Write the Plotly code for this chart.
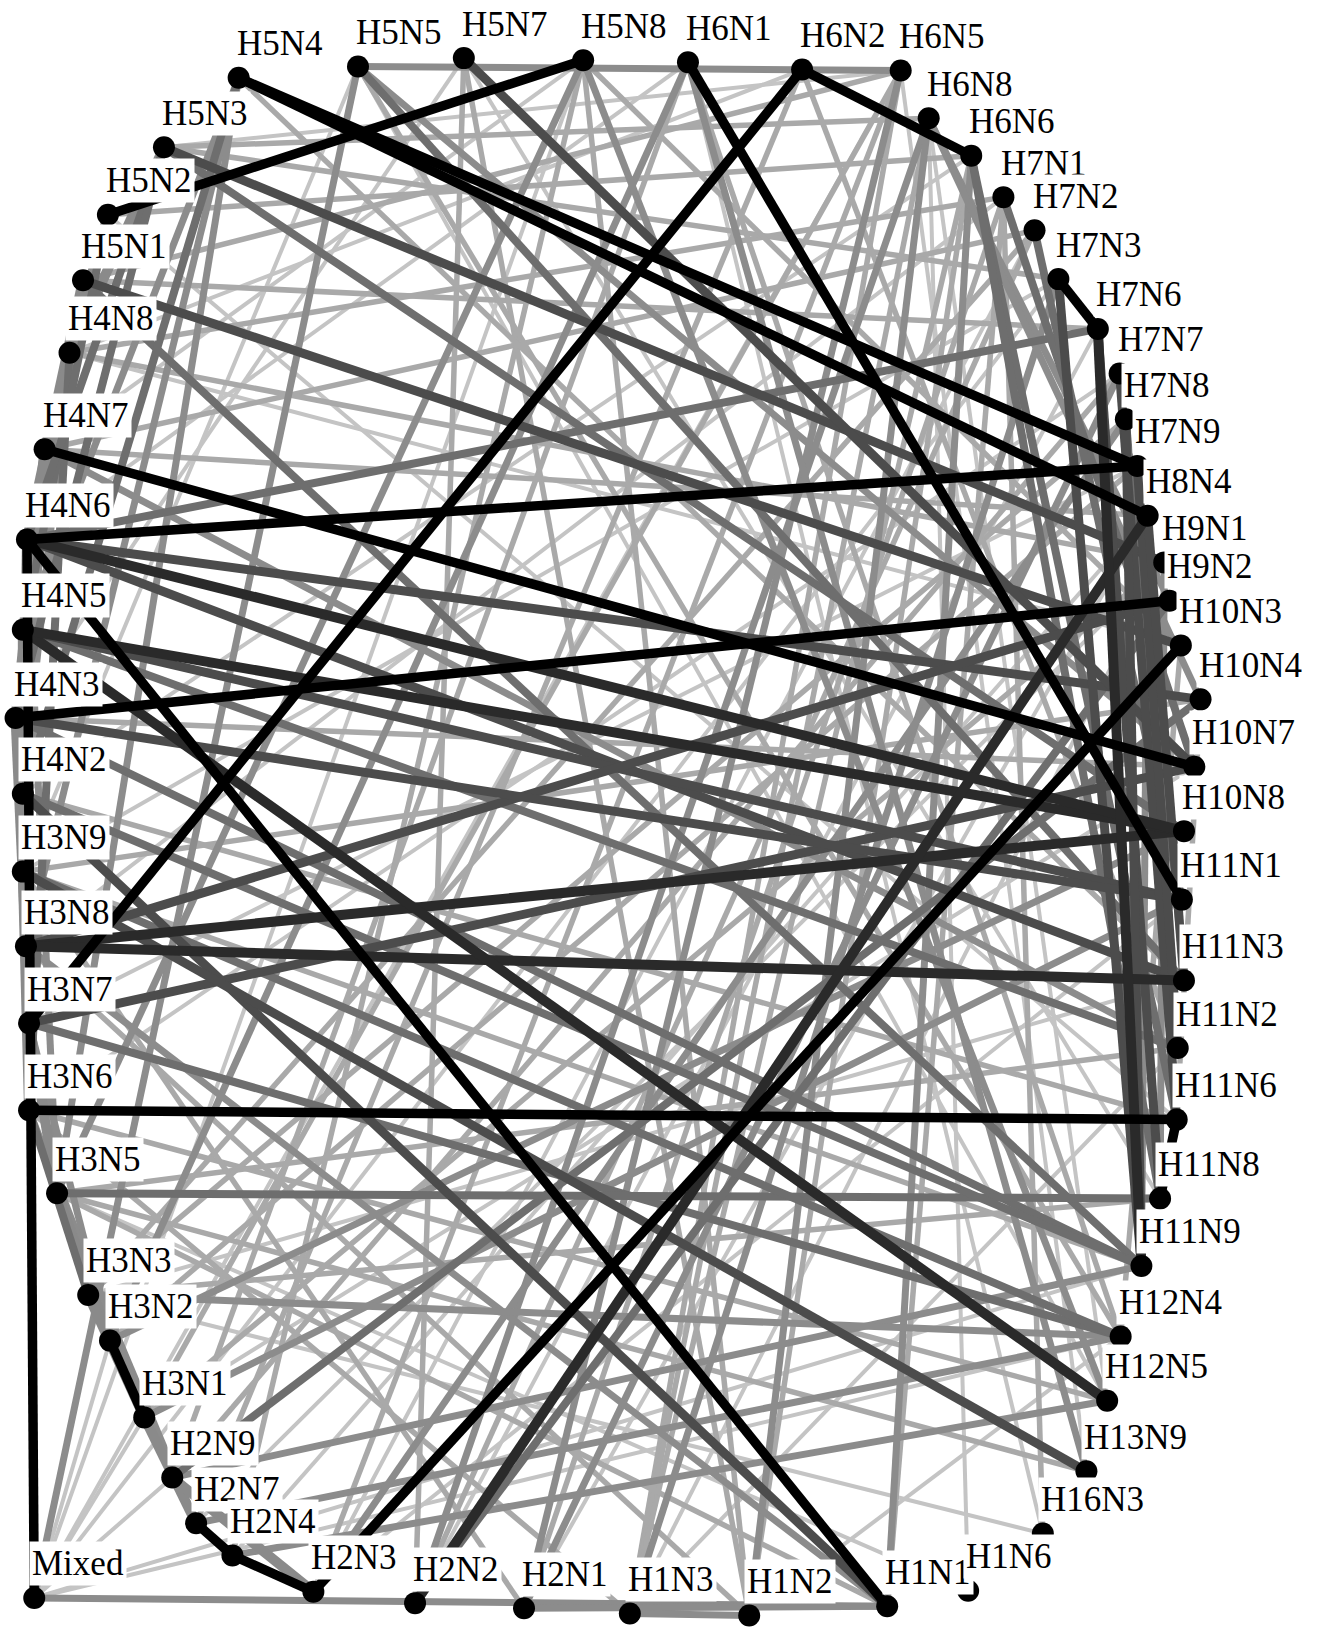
import plotly.graph_objects as go

# ---------------- data ----------------
node_names = ["H5N4", "H5N5", "H5N7", "H5N8", "H6N1", "H6N2", "H6N5", "H6N8", "H6N6",
              "H7N1", "H7N2", "H7N3", "H7N6", "H7N7", "H7N8", "H7N9", "H8N4", "H9N1",
              "H9N2", "H10N3", "H10N4", "H10N7", "H10N8", "H11N1", "H11N3", "H11N2",
              "H11N6", "H11N8", "H11N9", "H12N4", "H12N5", "H13N9", "H16N3",
              "H1N1", "H1N6", "H1N2", "H1N3", "H2N1", "H2N2", "H2N3", "H2N9", "H2N7", "H2N4",
              "H3N1", "H3N2", "H3N3", "H3N5", "H3N6", "H3N7", "H3N8", "H3N9", "H4N2",
              "H4N3", "H4N5", "H4N6", "H4N7", "H4N8", "H5N1", "H5N2", "H5N3", "Mixed"]

# layout coordinates of the network
layout_x = [230, 345, 447, 562, 663, 773, 868, 895, 936,
            967, 997, 1020, 1058, 1079, 1085, 1096, 1106, 1122,
            1127, 1138, 1157, 1151, 1141, 1139, 1141, 1135,
            1134, 1118, 1100, 1080, 1067, 1047, 1005,
            855, 933, 722, 607, 505, 400, 302, 166, 189, 224,
            139, 106, 85, 55, 28, 28, 25, 22, 22,
            15, 22, 26, 43, 67, 80, 104, 158, 33]
layout_y = [75, 64, 56, 58, 60, 67, 68, 114, 150,
            190, 222, 269, 317, 360, 404, 449, 497, 542,
            579, 622, 674, 739, 801, 867, 945, 1010,
            1079, 1155, 1220, 1288, 1350, 1418, 1478,
            1548, 1533, 1557, 1555, 1550, 1545, 1534, 1424, 1468, 1499,
            1366, 1292, 1248, 1150, 1070, 986, 912, 840, 765,
            692, 607, 520, 433, 340, 270, 207, 142, 1540]

edges_black = [("H5N4", "H7N9"), ("H5N4", "H8N4"), ("H5N2", "H5N8"), ("H6N1", "H11N1"),
               ("H6N2", "H3N7"), ("H6N2", "H6N6"), ("H4N7", "H10N7"), ("H4N6", "H7N9"),
               ("H4N3", "H9N2"), ("H4N6", "H1N1"), ("H3N6", "H11N6"), ("H2N3", "H10N3"),
               ("H3N2", "H3N1"), ("H2N7", "H2N4"), ("H2N4", "H2N3"), ("H7N3", "H7N6"),
               ("H11N6", "H11N8"), ("Mixed", "H4N6")]

edges_dark = [("H3N8", "H10N8"), ("H3N8", "H11N3"), ("H4N5", "H12N5"), ("H4N5", "H10N8"),
              ("H2N2", "H8N4"), ("H4N6", "H10N8"), ("H7N6", "H11N9")]

edges_dgrey = [("H4N6", "H10N4"), ("H4N6", "H11N3"), ("H5N3", "H9N1"), ("H5N1", "H10N3"),
               ("H5N7", "H10N7"), ("H7N3", "H11N9"), ("H7N6", "H11N8"), ("H3N7", "H10N7"),
               ("H4N5", "H11N1"), ("H4N2", "H1N1"), ("H3N8", "H9N2"), ("H4N3", "H11N1"),
               ("H7N7", "H11N6"), ("H3N9", "H13N9"), ("H7N8", "H11N9"), ("H7N9", "H11N2"),
               ("H8N4", "H11N3")]

edges_mgrey = [("H4N6", "H7N6"), ("H5N3", "H10N8"), ("H5N1", "H11N9"), ("H4N5", "H11N2"),
               ("H4N3", "H11N9"), ("H6N6", "H11N6"), ("H7N1", "H10N7"), ("H5N4", "H4N2"),
               ("H7N8", "H11N2"), ("H3N7", "H12N4"), ("H2N9", "H10N4"), ("H3N5", "H11N8"),
               ("H4N8", "H3N6"), ("H5N2", "H4N5"), ("H5N3", "H4N6"), ("H2N2", "H9N2"),
               ("H5N5", "H11N3"), ("H3N9", "H12N4"), ("H4N2", "H11N9"), ("H3N6", "H3N3"),
               ("H6N6", "H11N8"), ("H7N2", "H11N1"), ("H5N3", "H4N3")]

edges_rim = [("H5N1", "H4N6"), ("H4N8", "H4N5"), ("H4N7", "H4N3"), ("H4N6", "H4N2"),
             ("H4N5", "H3N9"), ("H4N3", "H3N8"), ("H4N2", "H3N7"), ("H3N9", "H3N6"),
             ("H3N7", "H3N5"), ("H3N5", "H3N2"), ("H3N3", "H3N1"), ("H3N1", "H2N7"),
             ("H2N9", "H2N3"), ("H5N3", "H4N8"), ("H5N2", "H4N7")]

edges_grey = [("H5N5", "H6N5"), ("Mixed", "H1N1"), ("H5N5", "Mixed"), ("H5N5", "H10N7"),
              ("H6N8", "H9N2"), ("H5N1", "H4N3"), ("H4N8", "H4N2"), ("H4N7", "H3N9"),
              ("H4N6", "H3N5"), ("H3N7", "H3N2"), ("H3N6", "H2N9"), ("H3N5", "H2N7"),
              ("H2N9", "H11N9"), ("H2N7", "H12N4"), ("H2N4", "H12N5"), ("H3N2", "H10N8"),
              ("H3N1", "H11N1"), ("H5N8", "H3N5"), ("H6N1", "H3N2"), ("H6N5", "H2N1"),
              ("H6N8", "H2N2"), ("H5N8", "H12N5"), ("H6N1", "H13N9"), ("H2N1", "H7N7"),
              ("H1N3", "H7N3"), ("H1N2", "H6N8"), ("H1N1", "H3N8"), ("H2N3", "H7N8"),
              ("H7N9", "H11N3"), ("H8N4", "H11N9"), ("H9N1", "H11N8"), ("H4N3", "H3N7"),
              ("H5N4", "H3N8"), ("H2N1", "H1N1"), ("H1N3", "H1N2"), ("H6N6", "H1N1"),
              ("H3N3", "H12N4"), ("H4N7", "H11N2"), ("H5N4", "H3N5"), ("H6N8", "H10N4"),
              ("H5N4", "H4N5")]

edges_lgrey = [("H5N3", "H6N8"), ("H5N2", "H6N6"), ("H5N1", "H6N5"), ("H4N8", "H7N1"),
               ("H4N7", "H7N2"), ("H5N3", "H7N3"), ("H5N1", "H7N6"), ("H5N8", "H2N4"),
               ("H6N1", "H2N9"), ("H6N2", "H2N7"), ("H6N5", "H1N3"), ("H5N7", "H2N2"),
               ("H5N7", "H1N2"), ("H5N5", "H12N4"), ("H5N4", "H11N3"), ("H6N6", "H1N2"),
               ("H6N8", "H1N3"), ("H7N1", "H2N1"), ("H7N2", "H3N3"), ("H7N1", "H16N3"),
               ("H4N8", "H9N1"), ("H4N7", "H8N4"), ("H4N3", "H10N7"), ("H4N2", "H11N6"),
               ("H3N9", "H11N9"), ("H3N9", "H10N4"), ("H3N6", "H12N5"), ("H3N5", "H11N2"),
               ("H3N5", "H13N9"), ("H3N3", "H11N8"), ("H3N1", "H9N1"), ("H3N3", "H7N8"),
               ("H2N2", "H7N2"), ("H1N3", "H6N6"), ("H1N1", "H7N1"), ("H2N3", "H6N5"),
               ("H1N2", "H5N8"), ("H1N2", "H3N8"), ("H1N3", "H3N6"), ("H1N1", "H3N5"),
               ("H2N1", "H3N9"), ("H10N3", "H12N4"), ("H10N4", "H11N6"),
               ("H6N2", "H11N2"), ("H5N8", "H10N3"), ("H6N1", "H12N4"), ("H6N5", "H3N1"),
               ("H2N9", "H7N7"), ("H3N2", "H7N9")]

edges_faint = [("Mixed", "H3N2"), ("Mixed", "H11N9"), ("Mixed", "H12N4"), ("Mixed", "H6N5"),
               ("Mixed", "H7N3"), ("Mixed", "H2N9"), ("Mixed", "H3N1"), ("Mixed", "H5N8"),
               ("H16N3", "H3N3"), ("H16N3", "H6N1"), ("H13N9", "H6N5"), ("H12N5", "H5N5"),
               ("H1N6", "H6N8"), ("H1N6", "H3N5"), ("H5N7", "H4N3"), ("H5N8", "H4N7"),
               ("H6N2", "H4N8"), ("H6N5", "H5N3"), ("H6N1", "H4N6"), ("H5N5", "H3N9"),
               ("H7N2", "H2N3"), ("H7N6", "H2N2"), ("H7N7", "H3N6"), ("H7N9", "H3N7"),
               ("H8N4", "H2N4"), ("H9N1", "H2N7"), ("H10N7", "H3N1"), ("H11N1", "H2N3"),
               ("H11N2", "H1N3"), ("H11N3", "H3N3"), ("H12N4", "H1N2"), ("H5N7", "H11N8"),
               ("H6N8", "H12N5"), ("H4N8", "H10N3"), ("H5N2", "H11N6"), ("H4N2", "H6N6"),
               ("H3N8", "H7N1"), ("H3N9", "H7N3"), ("H2N1", "H8N4"), ("H1N3", "H9N1")]

edge_tiers = [("faint", edges_faint), ("lgrey", edges_lgrey), ("grey", edges_grey),
              ("rim", edges_rim), ("mgrey", edges_mgrey), ("dgrey", edges_dgrey),
              ("dark", edges_dark), ("black", edges_black)]

# ---------------- styles ----------------
tier_style = {
    "faint": ("#c4c4c4", 4),
    "lgrey": ("#a9a9a9", 5.5),
    "grey": ("#8c8c8c", 7),
    "rim": ("#8a8a8a", 10),
    "mgrey": ("#6e6e6e", 8),
    "dgrey": ("#4c4c4c", 9),
    "dark": ("#2a2a2a", 10),
    "black": ("#000000", 9.5),
}

pos = {n: (x, y) for n, x, y in zip(node_names, layout_x, layout_y)}

fig = go.Figure()
for tier, edges in edge_tiers:
    xs, ys = [], []
    for a, b in edges:
        xa, ya = pos[a]
        xb, yb = pos[b]
        xs += [xa, xb, None]
        ys += [ya, yb, None]
    color, width = tier_style[tier]
    fig.add_trace(go.Scatter(x=xs, y=ys, mode="lines",
                             line=dict(color=color, width=width),
                             hoverinfo="skip", showlegend=False))

fig.add_trace(go.Scatter(x=layout_x, y=layout_y, mode="markers",
                         marker=dict(color="black", size=22),
                         text=node_names, hoverinfo="text", showlegend=False))

for n, x, y in zip(node_names, layout_x, layout_y):
    fig.add_annotation(x=x, y=y, text=n, showarrow=False,
                       xanchor="left", yanchor="middle", xshift=-5, yshift=34,
                       font=dict(family="Liberation Serif", size=35, color="black"),
                       bgcolor="white", borderpad=2)

fig.update_xaxes(range=[0, 1275], visible=False, showgrid=False, zeroline=False)
fig.update_yaxes(range=[1568, 0], visible=False, showgrid=False, zeroline=False)
fig.update_layout(width=1323, height=1627, margin=dict(l=0, r=0, t=0, b=0),
                  plot_bgcolor="white", paper_bgcolor="white")

fig.write_html("out.html", config={"displayModeBar": False},
               post_script="document.body.style.margin='0';document.body.style.overflow='hidden';")
